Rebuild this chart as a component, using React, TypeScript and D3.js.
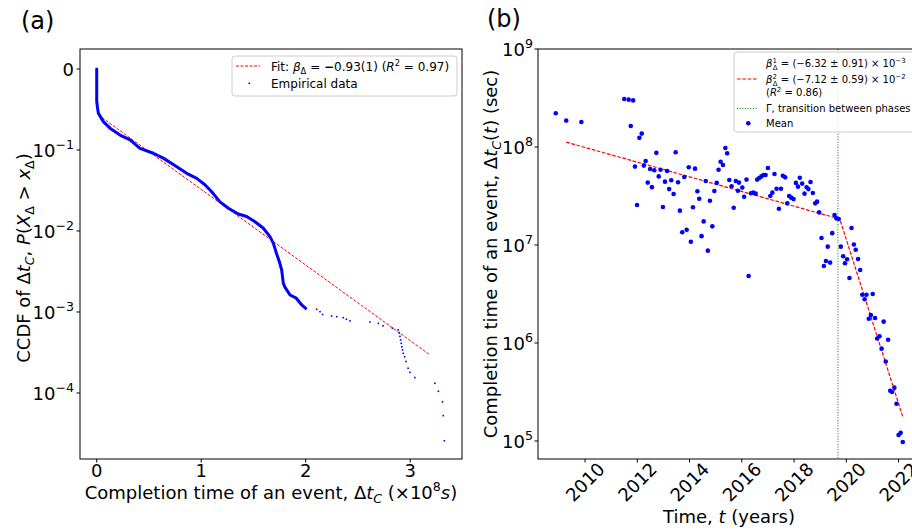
import React from 'react';
import * as d3 from 'd3';

// (a) CCDF of completion time, x in units of 1e8 s
const ccdfX = [0, 0, 0.008, 0.016, 0.063, 0.127, 0.223, 0.319, 0.414, 0.542, 0.637, 0.766, 0.861, 0.957,
  1.036, 1.10, 1.18, 1.26, 1.355, 1.435, 1.515, 1.595, 1.658, 1.69, 1.72, 1.748, 1.77, 1.786, 1.80,
  1.85, 1.91, 1.96, 2.0];
const ccdfY = [1.0, 0.40, 0.33, 0.284, 0.224, 0.186, 0.153, 0.133, 0.105, 0.0912, 0.0794, 0.0622, 0.0515,
  0.0447, 0.0372, 0.0305, 0.0229, 0.0191, 0.0162, 0.0151, 0.0130, 0.0108, 0.00851, 0.00708, 0.00531,
  0.00417, 0.00331, 0.00226, 0.00204, 0.00162, 0.00148, 0.00123, 0.00111];
const tailX = [2.105, 2.137, 2.162, 2.248, 2.297, 2.36, 2.39, 2.424, 2.615, 2.695, 2.74, 2.83, 2.886, 2.896,
  2.902, 2.909, 2.914, 2.92, 2.927, 2.934, 2.947, 2.96, 2.98, 2.998, 3.045, 3.237, 3.27, 3.31, 3.317, 3.327];
const tailY = [0.00108, 0.00101, 0.000933, 0.000891, 0.000875, 0.000851, 0.000813, 0.000776, 0.000752,
  0.000724, 0.000676, 0.000631, 0.000603, 0.00055, 0.0005, 0.000452, 0.00041, 0.000372, 0.00034, 0.000309,
  0.00028, 0.000245, 0.000202, 0.00018, 0.000155, 0.000132, 0.000105, 0.0000776, 0.0000525, 0.0000257];
const fitAX = [0.016, 3.19];
const fitAY = [0.27, 0.000295];

// (b) mean completion time per period
const meanYear = [2008.88, 2009.28, 2009.86, 2011.50, 2011.67, 2011.84, 2011.75, 2012.17, 2012.08, 2012.73,
  2013.47, 2012.32, 2011.91, 2012.25, 2012.49, 2012.65, 2012.89, 2013.14, 2012.82, 2012.40, 2012.56,
  2013.06, 2013.30, 2013.56, 2013.22, 2013.39, 2013.80, 2013.97, 2014.21, 2014.62, 2014.30, 2014.37,
  2015.04, 2014.95, 2014.78, 2015.11, 2015.19, 2015.28, 2015.37, 2015.44, 2015.52, 2015.61, 2015.77,
  2015.89, 2011.99, 2012.98, 2013.63, 2014.13, 2014.54, 2014.87, 2013.89, 2013.72, 2014.46, 2014.05,
  2014.70, 2015.69, 2015.85, 2016.02, 2016.09, 2016.18, 2016.35, 2016.44, 2016.53, 2016.59, 2016.67,
  2016.75, 2016.83, 2016.91, 2017.0, 2017.25, 2017.09, 2017.17, 2017.33, 2017.50, 2017.42, 2017.57,
  2017.66, 2017.74, 2017.81, 2017.89, 2017.98, 2018.07, 2018.15, 2018.22, 2018.31, 2018.40, 2018.48,
  2018.55, 2018.63, 2018.72, 2018.81, 2018.88, 2018.96, 2019.05, 2019.14, 2019.22, 2019.29, 2019.38,
  2019.46, 2019.55, 2019.62, 2019.71, 2019.79, 2019.88, 2019.95, 2020.03, 2020.12, 2020.20, 2020.29,
  2020.36, 2020.45, 2020.53, 2020.61, 2020.70, 2020.77, 2021.01, 2020.86, 2020.94, 2021.10, 2021.43,
  2021.18, 2021.27, 2021.35, 2021.60, 2021.51, 2021.68, 2021.75, 2021.84, 2021.92, 2022.0, 2022.08,
  2022.16, 2016.26];
const meanSec = [2.21e8, 1.86e8, 1.80e8, 3.09e8, 3.04e8, 2.99e8, 1.64e8, 1.37e8, 1.24e8, 8.71e7,
  8.83e7, 7.19e7, 6.31e7, 6.46e7, 5.97e7, 5.78e7, 5.86e7, 5.69e7, 5.01e7, 4.33e7, 3.89e7,
  4.43e7, 4.57e7, 4.37e7, 3.72e7, 3.31e7, 4.94e7, 6.21e7, 6.01e7, 4.50e7, 3.53e7, 2.96e7,
  4.30e7, 3.56e7, 2.83e7, 5.86e7, 7.08e7, 6.55e7, 9.77e7, 8.61e7, 4.60e7, 3.98e7, 4.50e7,
  4.33e7, 2.56e7, 2.44e7, 2.24e7, 2.43e7, 1.74e7, 1.55e7, 1.43e7, 1.35e7, 1.23e7, 1.08e7,
  8.75e6, 2.40e7, 3.58e7, 3.85e7, 3.11e7, 4.65e7, 3.37e7, 3.42e7, 3.34e7, 4.65e7, 4.83e7,
  5.01e7, 5.18e7, 5.18e7, 6.11e7, 5.30e7, 3.16e7, 3.42e7, 3.75e7, 3.75e7, 2.34e7, 5.09e7,
  4.90e7, 2.66e7, 3.16e7, 3.04e7, 2.94e7, 4.30e7, 3.94e7, 4.86e7, 4.23e7, 3.34e7, 3.88e7,
  3.72e7, 4.40e7, 3.39e7, 2.66e7, 2.77e7, 2.15e7, 1.18e7, 6.11e6, 6.87e6, 9.62e6, 6.61e6,
  1.32e7, 2.02e7, 1.87e7, 1.84e7, 9.62e6, 7.67e6, 6.50e6, 7.14e6, 4.60e6, 1.49e7, 1.01e7,
  8.95e6, 7.19e6, 5.56e6, 3.11e6, 2.79e6, 3.11e6, 3.16e6, 1.77e6, 1.93e6, 1.80e6, 1.65e6,
  1.11e6, 1.17e6, 8.75e5, 1.08e6, 6.46e5, 3.26e5, 3.16e5, 3.50e5, 2.40e5, 1.15e5, 1.21e5,
  9.77e4, 4.83e6];
const fitBYear = [2009.28, 2019.75, 2022.16];
const fitBSec = [1.12e8, 1.84e7, 1.77e5];
const transitionYear = 2019.68;

const ccdfTicks = [1, 1e-1, 1e-2, 1e-3, 1e-4];
const ccdfExps = ['', '−1', '−2', '−3', '−4'];
const xTicksA = [0, 1, 2, 3];
const yearTicks = [2010, 2012, 2014, 2016, 2018, 2020, 2022];
const secTicks = [1e5, 1e6, 1e7, 1e8, 1e9];
const secExps = ['5', '6', '7', '8', '9'];

const BLUE = '#0000ff';
const RED = '#ff0000';
const GREEN = '#008000';

export default function App() {
  const xA = d3.scaleLinear().domain([-0.16, 3.496]).range([80, 462]);
  const yA = d3.scaleLog().domain([10 ** -4.815, 10 ** 0.247]).range([459, 49]);
  const xB = d3.scaleLinear().domain([2008.2, 2022.82]).range([538, 920]);
  const yB = d3.scaleLog().domain([10 ** 4.816, 1e9]).range([459, 49]);

  const denseLine = d3.line<number>()
    .x((d, i) => xA(ccdfX[i]))
    .y(d => yA(d));
  const fitA = d3.line<number>()
    .x((d, i) => xA(fitAX[i]))
    .y(d => yA(d));
  const fitB = d3.line<number>()
    .x((d, i) => xB(fitBYear[i]))
    .y(d => yB(d));

  const [a0, a1] = yA.range();
  const [b0, b1] = yB.range();

  return (
    <svg width={912} height={530} style={{ position: 'absolute', left: 0, top: 0 }}
      fontFamily="DejaVu Sans" fill="black">
      <rect width={912} height={530} fill="white" />

      {/* ---------- panel (a) ---------- */}
      <text x={21} y={29} fontSize={24}>(a)</text>
      <path d={fitA(fitAY) || ''} fill="none" stroke={RED} strokeWidth={1} strokeDasharray="3,1.5" />
      <path d={denseLine(ccdfY) || ''} fill="none" stroke={BLUE} strokeWidth={3}
        strokeLinejoin="round" strokeLinecap="round" />
      {tailY.map((v, i) => (
        <rect key={i} x={xA(tailX[i]) - 0.8} y={yA(v) - 0.8} width={1.6} height={1.6} fill={BLUE} />
      ))}
      <rect x={80} y={a1} width={382} height={a0 - a1} fill="none" stroke="black" strokeWidth={1} />
      {xTicksA.map(t => (
        <g key={t}>
          <line x1={xA(t)} x2={xA(t)} y1={a0} y2={a0 + 3.5} stroke="black" />
          <text x={xA(t)} y={a0 + 18} fontSize={18} textAnchor="middle">{t}</text>
        </g>
      ))}
      {ccdfTicks.map((t, i) => (
        <g key={t}>
          <line x1={80} x2={76.5} y1={yA(t)} y2={yA(t)} stroke="black" />
          {i === 0 ? (
            <text x={74} y={yA(t) + 7} fontSize={18} textAnchor="end">0</text>
          ) : (
            <text x={74} y={yA(t) + 7} fontSize={18} textAnchor="end">
              10<tspan dy={-8} fontSize={12.6}>{ccdfExps[i]}</tspan>
            </text>
          )}
        </g>
      ))}
      <text x={271} y={499} fontSize={18} textAnchor="middle">
        Completion time of an event, Δ<tspan fontStyle="italic">t</tspan>
        <tspan dy={4} fontSize={12.6} fontStyle="italic">C</tspan>
        <tspan dy={-4}> (×10</tspan><tspan dy={-8} fontSize={12.6}>8</tspan>
        <tspan dy={8} fontStyle="italic">s</tspan>)
      </text>
      <text transform="translate(30,258) rotate(-90)" fontSize={18} textAnchor="middle">
        CCDF of Δ<tspan fontStyle="italic">t</tspan>
        <tspan dy={4} fontSize={12.6} fontStyle="italic">C</tspan>
        <tspan dy={-4}>, </tspan><tspan fontStyle="italic">P</tspan>(<tspan fontStyle="italic">X</tspan>
        <tspan dy={4} fontSize={12.6}>Δ</tspan><tspan dy={-4}> &gt; </tspan>
        <tspan fontStyle="italic">x</tspan><tspan dy={4} fontSize={12.6}>Δ</tspan>
        <tspan dy={-4}>)</tspan>
      </text>

      {/* legend (a) */}
      <rect x={232} y={56} width={225} height={40} rx={3} fill="white" fillOpacity={0.8}
        stroke="#cccccc" strokeWidth={1} />
      <line x1={236} x2={260} y1={66} y2={66} stroke={RED} strokeWidth={1} strokeDasharray="3,1.5" />
      <text x={271} y={70.5} fontSize={12}>
        Fit: <tspan fontStyle="italic">β</tspan><tspan dy={3} fontSize={8.4}>Δ</tspan>
        <tspan dy={-3}> = </tspan><tspan fontWeight="bold">−</tspan>0.93(1) (<tspan fontStyle="italic">R</tspan>
        <tspan dy={-5} fontSize={8.4}>2</tspan><tspan dy={5}> = 0.97)</tspan>
      </text>
      <rect x={248.5} y={82.5} width={1.6} height={1.6} fill={BLUE} />
      <text x={271} y={88} fontSize={12}>Empirical data</text>

      {/* ---------- panel (b) ---------- */}
      <text x={487} y={27} fontSize={24}>(b)</text>
      <line x1={xB(transitionYear)} x2={xB(transitionYear)} y1={b1} y2={b0}
        stroke={GREEN} strokeWidth={1} strokeDasharray="1,1.65" />
      <path d={fitB(fitBSec) || ''} fill="none" stroke={RED} strokeWidth={1.2} strokeDasharray="3.7,1.6" />
      {meanSec.map((v, i) => (
        <circle key={i} cx={xB(meanYear[i])} cy={yB(v)} r={2.3} fill={BLUE} />
      ))}
      <rect x={538} y={b1} width={382} height={b0 - b1} fill="none" stroke="black" strokeWidth={1} />
      {yearTicks.map(t => (
        <g key={t}>
          <line x1={xB(t)} x2={xB(t)} y1={b0} y2={b0 + 3.5} stroke="black" />
          <text transform={`translate(${xB(t)},${b0 + 23}) rotate(-45)`} fontSize={18}
            textAnchor="middle" dominantBaseline="central">{t}</text>
        </g>
      ))}
      {secTicks.map((t, i) => (
        <g key={t}>
          <line x1={538} x2={534.5} y1={yB(t)} y2={yB(t)} stroke="black" />
          <text x={533} y={yB(t) + 7} fontSize={18} textAnchor="end">
            10<tspan dy={-8} fontSize={12.6}>{secExps[i]}</tspan>
          </text>
        </g>
      ))}
      <text x={729} y={523} fontSize={18} textAnchor="middle">
        Time, <tspan fontStyle="italic">t</tspan> (years)
      </text>
      <text transform="translate(497,254) rotate(-90)" fontSize={18} textAnchor="middle">
        Completion time of an event, Δ<tspan fontStyle="italic">t</tspan>
        <tspan dy={4} fontSize={12.6} fontStyle="italic">C</tspan>
        <tspan dy={-4}>(</tspan><tspan fontStyle="italic">t</tspan>) (sec)
      </text>

      {/* legend (b) */}
      <rect x={734} y={52} width={200} height={80} rx={3} fill="white" fillOpacity={0.8}
        stroke="#cccccc" strokeWidth={1} />
      <text x={766} y={67} fontSize={10}>
        <tspan fontStyle="italic">β</tspan><tspan dy={-4} fontSize={7}>1</tspan>
        <tspan dx={-4} dy={7} fontSize={7}>Δ</tspan>
        <tspan dy={-3}> = (−6.32 ± 0.91) × 10</tspan><tspan dy={-4} fontSize={7}>−3</tspan>
      </text>
      <line x1={737} x2={757} y1={79} y2={79} stroke={RED} strokeWidth={1.2} strokeDasharray="3.7,1.6" />
      <text x={766} y={83} fontSize={10}>
        <tspan fontStyle="italic">β</tspan><tspan dy={-4} fontSize={7}>2</tspan>
        <tspan dx={-4} dy={7} fontSize={7}>Δ</tspan>
        <tspan dy={-3}> = (−7.12 ± 0.59) × 10</tspan><tspan dy={-4} fontSize={7}>−2</tspan>
      </text>
      <text x={766} y={96} fontSize={10}>
        (<tspan fontStyle="italic">R</tspan><tspan dy={-4} fontSize={7}>2</tspan>
        <tspan dy={4}> = 0.86)</tspan>
      </text>
      <line x1={737} x2={757} y1={108.5} y2={108.5} stroke={GREEN} strokeWidth={1} strokeDasharray="1,1.65" />
      <text x={766} y={112} fontSize={10}>Γ, transition between phases</text>
      <circle cx={748.3} cy={123.3} r={2.3} fill={BLUE} />
      <text x={766} y={127} fontSize={10}>Mean</text>
    </svg>
  );
}
